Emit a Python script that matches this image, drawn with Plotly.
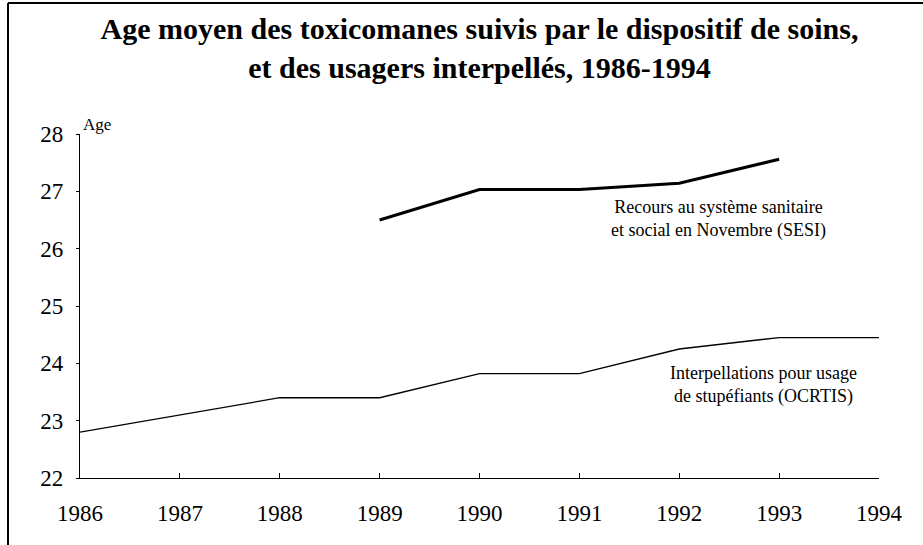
import plotly.graph_objects as go

years = [1986, 1987, 1988, 1989, 1990, 1991, 1992, 1993, 1994]
sesi_years = [1989, 1990, 1991, 1992, 1993]
sesi_age = [26.5, 27.03, 27.03, 27.14, 27.56]
ocrtis_age = [22.8, 23.1, 23.4, 23.4, 23.82, 23.82, 24.25, 24.45, 24.45]
y_ticks = [22, 23, 24, 25, 26, 27, 28]

FONT = "'Liberation Serif', 'Times New Roman', Times, 'DejaVu Serif', serif"

fig = go.Figure()
fig.add_trace(go.Scatter(x=sesi_years, y=sesi_age, mode="lines",
                         line=dict(color="black", width=3), showlegend=False))
fig.add_trace(go.Scatter(x=years, y=ocrtis_age, mode="lines",
                         line=dict(color="black", width=1.3), showlegend=False))

W, H = 923, 545
L, R, T, B = 80, 44, 134, 67
pw, ph = W - L - R, H - T - B

def px(xp):
    return (xp - L) / pw

def py(yp):
    return (H - B - yp) / ph

fig.update_layout(
    width=W, height=H,
    margin=dict(l=L, r=R, t=T, b=B),
    paper_bgcolor="white", plot_bgcolor="white",
    font=dict(family=FONT, color="black"),
    title=dict(
        text="<b>Age moyen des toxicomanes suivis par le dispositif de soins,<br>et des usagers interpellés, 1986-1994</b>",
        x=0.5, xref="paper", xanchor="center", y=1 - 39 / H, yanchor="middle",
        font=dict(family=FONT, size=30, color="black"),
    ),
    xaxis=dict(range=[1986, 1994], tickvals=years, ticktext=[str(y) for y in years],
               showgrid=False, zeroline=False, showline=True, linecolor="black", linewidth=1.2,
               ticks="inside", ticklen=5, tickcolor="black",
               tickfont=dict(family=FONT, size=23), ticklabelstandoff=14),
    yaxis=dict(range=[22, 28], tickvals=y_ticks,
               showgrid=False, zeroline=False, showline=True, linecolor="black", linewidth=1.2,
               ticks="outside", ticklen=3, tickcolor="black",
               tickfont=dict(family=FONT, size=23), ticklabelstandoff=8),
    annotations=[
        dict(text="Age", xref="paper", yref="paper", x=px(81), y=py(125),
             xanchor="left", yanchor="middle", showarrow=False,
             font=dict(family=FONT, size=17)),
        dict(text="Recours au système sanitaire<br>et social en Novembre (SESI)",
             xref="paper", yref="paper", x=px(718), y=py(219),
             xanchor="center", yanchor="middle", showarrow=False,
             font=dict(family=FONT, size=18)),
        dict(text="Interpellations pour usage<br>de stupéfiants (OCRTIS)",
             xref="paper", yref="paper", x=px(763), y=py(385),
             xanchor="center", yanchor="middle", showarrow=False,
             font=dict(family=FONT, size=18)),
    ],
    shapes=[
        dict(type="line", xref="paper", yref="paper", x0=px(8), x1=px(923), y0=py(3), y1=py(3),
             line=dict(color="black", width=2)),
        dict(type="line", xref="paper", yref="paper", x0=px(8), x1=px(8), y0=py(3), y1=py(545),
             line=dict(color="black", width=2)),
    ],
)

fig.write_html("out.html", config={"displayModeBar": False},
               post_script="document.body.style.margin='0';document.body.style.overflow='hidden';")
